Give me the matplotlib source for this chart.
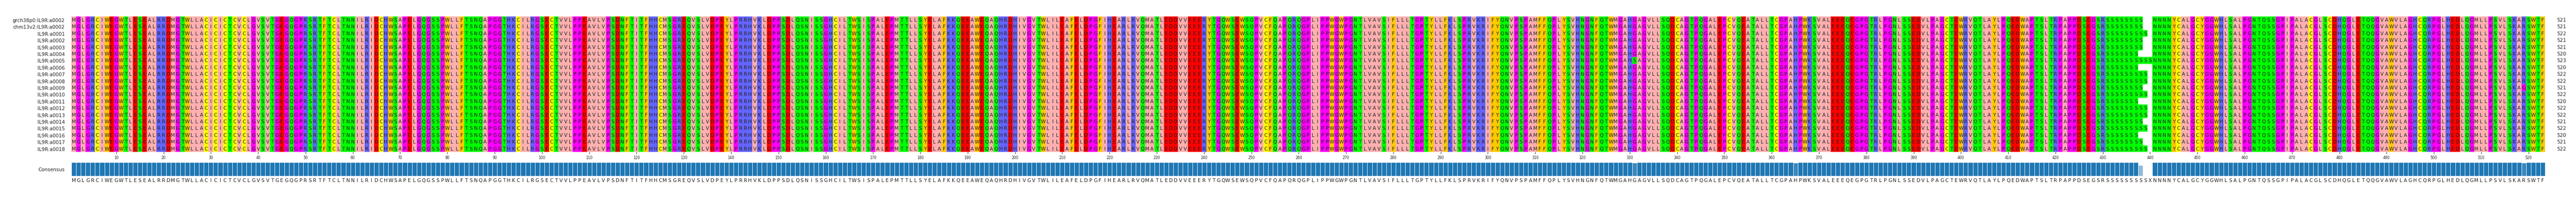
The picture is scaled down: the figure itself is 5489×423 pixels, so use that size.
import numpy as np
import matplotlib.pyplot as plt
from matplotlib.colors import ListedColormap, to_rgb

names = ['grch38p0:IL9R:a0002', 'chm13v2:IL9R:a0002'] + ['IL9R:a%04d' % i for i in range(1, 19)]
lengths = [521, 521, 522, 521, 521, 520, 523, 520, 522, 522, 521, 522, 520, 522, 522, 521, 522, 520, 521, 522]

consensus = ('MGLGRCIWEGWTLESEALRRDMGTWLLACICICTCVCLGVSVTGEGQGPRSRT'
             'FTCLTNNILRIDCHWSAPELGQGSSPWLLFTSNQAPGGTHKCILRGSECTV'
             'VLPPEAVLVPSDNFTITFHHCMSGREQVSLVDPEYLPRRHVKLDPPSDLQSN'
             'ISSGHCILTWSISPALEPMTTLLSYELAFKKQEEAWEQAQHRDHIVGVTWL'
             'ILEAFELDPGFIHEARLRVQMATLEDDVVEEERYTGQWSEWSQPVCFQAPQR'
             'QGPLIPPWGWPGNTLVAVSIFLLLTGPTYLLFKLSPRVKRIFYQNVPSPAM'
             'FFQPLYSVHNGNFQTWMGAHGAGVLLSQDCAGTPQGALEPCVQEATALLTCG'
             'PAHPWKSVALEEEQEGPGTRLPGNLSSEDVLPAGCTEWRVQTLAYLPQEDWA'
             'PTSLTRPAPPDSEGSRSSSSSSSSSXNNNNYCALGCYGGWHLSALPGNTQS'
             'SGPIPALACGLSCDHQGLETQQGVAWVLAGHCQRPGLHEDL'
             'QGMLLPSVLSKARSWTF')
ncol = len(consensus)
x_pos = consensus.index('X')

# substitutions seen in individual rows: (row, 0-based column, residue)
variants = [(10, ncol - 5, 'G'), (6, 330, 'S'), (12, 364, 'R')]

groups = {'ILVAM': '#ffafaf', 'FWY': '#ffc800', 'KRH': '#6464ff', 'DE': '#ff0000',
          'STNQ': '#00ff00', 'PG': '#ff00ff', 'C': '#ffff00'}
letters = '-X' + ''.join(groups)
colors = ['white', 'white'] + [c for g, c in groups.items() for _ in g]

rows = []
for i, L in enumerate(lengths):
    seq = list(consensus)
    seq[x_pos] = 'S'
    gaps = max(ncol - L, 0)
    for k in range(gaps):
        seq[x_pos - k] = '-'
    rows.append(seq)
for r, c, a in variants:
    rows[r][c] = a

idx = np.array([[letters.index(a) for a in seq] for seq in rows])
cons_frac = np.array([np.mean([seq[c] == consensus[c] for seq in rows]) for c in range(ncol)])
cons_frac[x_pos] = np.mean([seq[x_pos] == 'S' for seq in rows])

W, H = 5489, 423
fig = plt.figure(figsize=(W / 100, H / 100), dpi=100)
left, width = 152 / W, 5271 / W
ax = fig.add_axes([left, 1 - 323 / H, width, 288 / H])
ax.pcolormesh(np.arange(ncol + 1), np.arange(len(rows) + 1), idx,
              cmap=ListedColormap(colors), vmin=-0.5, vmax=len(letters) - 0.5)
for r, seq in enumerate(rows):
    for c, a in enumerate(seq):
        if a != '-':
            ax.text(c + 0.5, r + 0.55, a, ha='center', va='center', fontsize=7.5, color='#222222')
    ax.text(ncol + 2.5, r + 0.55, str(lengths[r]), ha='left', va='center', fontsize=7.5, color='#222222')
ax.set_xlim(0, ncol)
ax.set_ylim(len(rows), 0)
ax.set_yticks(np.arange(len(rows)) + 0.55)
ax.set_yticklabels(names, fontsize=7.5, color='#222222')
ax.tick_params(axis='y', length=0, pad=10)
ticks = np.arange(10, ncol + 1, 10)
ax.set_xticks(ticks - 0.5)
ax.set_xticklabels([str(t) for t in ticks], fontsize=5.5, color='#222222')
ax.tick_params(axis='x', length=3, width=0.6, pad=3)
for s in ax.spines.values():
    s.set_visible(False)

cax = fig.add_axes([left, 1 - 374 / H, width, 29 / H])
base = np.array(to_rgb('#1f77b4'))
bar_cols = [tuple(base + (1 - f) * 2.5 * (1 - base)) if f < 1 else tuple(base) for f in cons_frac]
bar_cols = [tuple(np.clip(c, 0, 1)) for c in bar_cols]
cax.bar(np.arange(ncol) + 0.5, cons_frac, width=1, color=bar_cols, edgecolor='white', linewidth=0.6)
for c, a in enumerate(consensus):
    cax.text(c + 0.5, -0.33, a, ha='center', va='center', fontsize=7.5, color='#222222')
cax.set_xlim(0, ncol)
cax.set_ylim(0, 1)
cax.set_xticks([])
cax.set_yticks([0.5])
cax.set_yticklabels(['Consensus'], fontsize=7.5, color='#222222')
cax.tick_params(axis='y', length=0, pad=10)
for s in cax.spines.values():
    s.set_visible(False)

fig.savefig('out.png', dpi=100)
